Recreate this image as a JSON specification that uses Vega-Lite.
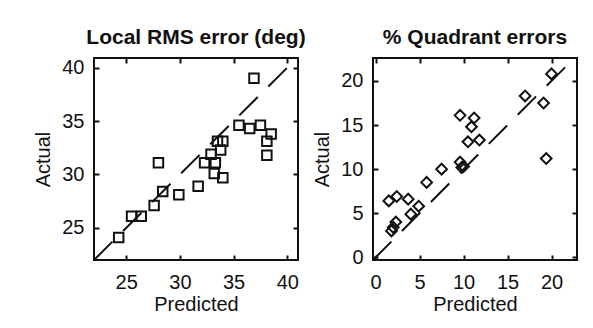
{
  "$schema": "https://vega.github.io/schema/vega-lite/v6.json",
  "background": "white",
  "padding": {"left": 32, "top": 26, "right": 5, "bottom": 10},
  "spacing": 4,
  "config": {
    "font": "Liberation Sans",
    "view": {"stroke": "#111", "strokeWidth": 2},
    "axis": {
      "labelFont": "Liberation Sans",
      "labelFontSize": 20,
      "labelColor": "#111",
      "titleFont": "Liberation Sans",
      "titleFontSize": 20,
      "titleFontWeight": "normal",
      "titleColor": "#111",
      "domain": false,
      "grid": false,
      "tickColor": "#111",
      "tickWidth": 2,
      "tickSize": -5,
      "labelPadding": 15
    },
    "axisBottom": {"labelPadding": 17, "titlePadding": 2},
    "axisLeft": {"titlePadding": 8},
    "title": {
      "font": "Liberation Sans",
      "fontSize": 21,
      "fontWeight": "bold",
      "color": "#111",
      "anchor": "middle",
      "baseline": "alphabetic",
      "offset": 9
    }
  },
  "datasets": {
    "rms": [
      {"predicted": 24.3, "actual": 24.1},
      {"predicted": 25.5, "actual": 26.1},
      {"predicted": 26.4, "actual": 26.1},
      {"predicted": 27.6, "actual": 27.1},
      {"predicted": 28.4, "actual": 28.4},
      {"predicted": 29.9, "actual": 28.1},
      {"predicted": 28.0, "actual": 31.1},
      {"predicted": 31.7, "actual": 28.9},
      {"predicted": 32.3, "actual": 31.1},
      {"predicted": 32.9, "actual": 31.9},
      {"predicted": 33.3, "actual": 31.1},
      {"predicted": 33.2, "actual": 30.1},
      {"predicted": 33.5, "actual": 33.1},
      {"predicted": 34.0, "actual": 33.1},
      {"predicted": 33.8, "actual": 32.3},
      {"predicted": 34.0, "actual": 29.7},
      {"predicted": 35.5, "actual": 34.6},
      {"predicted": 36.5, "actual": 34.3},
      {"predicted": 37.5, "actual": 34.6},
      {"predicted": 38.5, "actual": 33.8},
      {"predicted": 38.1, "actual": 33.1},
      {"predicted": 38.1, "actual": 31.8},
      {"predicted": 36.9, "actual": 39.0}
    ],
    "quad": [
      {"predicted": 1.5, "actual": 6.4},
      {"predicted": 2.4, "actual": 6.9},
      {"predicted": 3.7, "actual": 6.6},
      {"predicted": 1.8, "actual": 3.0},
      {"predicted": 2.0, "actual": 3.4},
      {"predicted": 2.3, "actual": 4.0},
      {"predicted": 4.0, "actual": 4.9},
      {"predicted": 4.9, "actual": 5.8},
      {"predicted": 5.8, "actual": 8.5},
      {"predicted": 7.5, "actual": 10.0},
      {"predicted": 9.6, "actual": 10.8},
      {"predicted": 9.8, "actual": 10.2},
      {"predicted": 10.0, "actual": 10.3},
      {"predicted": 9.6, "actual": 16.1},
      {"predicted": 11.2, "actual": 15.8},
      {"predicted": 10.9, "actual": 14.8},
      {"predicted": 10.5, "actual": 13.1},
      {"predicted": 11.8, "actual": 13.3},
      {"predicted": 17.0, "actual": 18.3},
      {"predicted": 19.1, "actual": 17.5},
      {"predicted": 19.4, "actual": 11.2},
      {"predicted": 20.0, "actual": 20.8}
    ],
    "diagRms": [
      {"predicted": 22, "actual": 22},
      {"predicted": 41, "actual": 41}
    ],
    "diagQuad": [
      {"predicted": -0.3, "actual": -0.3},
      {"predicted": 23, "actual": 23}
    ]
  },
  "hconcat": [
    {
      "title": "Local RMS error (deg)",
      "width": 204,
      "height": 202,
      "resolve": {"axis": {"x": "independent", "y": "independent"}},
      "layer": [
        {
          "data": {"name": "diagRms"},
          "mark": {"type": "line", "color": "#111", "strokeWidth": 2, "strokeDash": [26, 15], "clip": true},
          "encoding": {
            "x": {"field": "predicted", "type": "quantitative", "scale": {"domain": [22, 41], "nice": false, "zero": false}, "axis": {"orient": "bottom", "title": "Predicted", "values": [25, 30, 35, 40]}},
            "y": {"field": "actual", "type": "quantitative", "scale": {"domain": [22, 40.9], "nice": false, "zero": false}, "axis": {"orient": "left", "title": "Actual", "values": [25, 30, 35, 40]}}
          }
        },
        {
          "data": {"name": "rms"},
          "mark": {"type": "point", "shape": "square", "size": 90, "strokeWidth": 2, "color": "#111", "filled": false, "opacity": 1},
          "encoding": {
            "x": {"field": "predicted", "type": "quantitative", "axis": {"orient": "top", "title": null, "labels": false, "values": [25, 30, 35, 40]}},
            "y": {"field": "actual", "type": "quantitative", "axis": {"orient": "right", "title": null, "labels": false, "values": [25, 30, 35, 40]}}
          }
        }
      ]
    },
    {
      "title": "% Quadrant errors",
      "width": 204,
      "height": 202,
      "resolve": {"axis": {"x": "independent", "y": "independent"}},
      "layer": [
        {
          "data": {"name": "diagQuad"},
          "mark": {"type": "line", "color": "#111", "strokeWidth": 2, "strokeDash": [26, 15], "clip": true},
          "encoding": {
            "x": {"field": "predicted", "type": "quantitative", "scale": {"domain": [-0.3, 22.9], "nice": false, "zero": false}, "axis": {"orient": "bottom", "title": "Predicted", "values": [0, 5, 10, 15, 20]}},
            "y": {"field": "actual", "type": "quantitative", "scale": {"domain": [-0.3, 22.6], "nice": false, "zero": false}, "axis": {"orient": "left", "title": "Actual", "values": [0, 5, 10, 15, 20]}}
          }
        },
        {
          "data": {"name": "quad"},
          "mark": {"type": "point", "shape": "diamond", "size": 115, "strokeWidth": 2, "color": "#111", "filled": false, "opacity": 1},
          "encoding": {
            "x": {"field": "predicted", "type": "quantitative", "axis": {"orient": "top", "title": null, "labels": false, "values": [0, 5, 10, 15, 20]}},
            "y": {"field": "actual", "type": "quantitative", "axis": {"orient": "right", "title": null, "labels": false, "values": [0, 5, 10, 15, 20]}}
          }
        }
      ]
    }
  ]
}
